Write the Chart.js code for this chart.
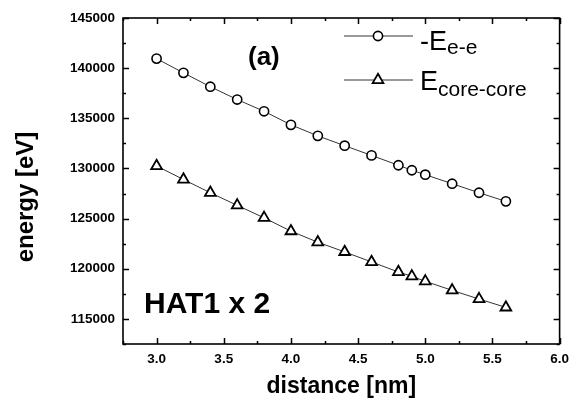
<!DOCTYPE html>
<html>
<head>
<meta charset="utf-8">
<script src="https://cdn.jsdelivr.net/npm/chart.js@4.4.1/dist/chart.umd.min.js"></script>
<style>
    html, body { margin: 0; padding: 0; background: #fff; }
    #wrap { width: 576px; height: 398px; position: relative; }
</style>
</head>
<body>
<div id="wrap"><canvas id="myChart"></canvas></div>
<script>
// values
const distances = [3.0, 3.2, 3.4, 3.6, 3.8, 4.0, 4.2, 4.4, 4.6, 4.8, 4.9, 5.0, 5.2, 5.4, 5.6];
const eeValues = [140950, 139530, 138150, 136870, 135700, 134350, 133250, 132270, 131300, 130320, 129820, 129380, 128480, 127580, 126720];
const coreValues = [130250, 128900, 127580, 126320, 125080, 123750, 122650, 121680, 120680, 119680, 119250, 118750, 117850, 116980, 116150];
const xTickValues = [3.0, 3.5, 4.0, 4.5, 5.0, 5.5, 6.0];
const yTickValues = [115000, 120000, 125000, 130000, 135000, 140000, 145000];

const FONT = "'Liberation Sans', Arial, sans-serif";

function labelFor(list, v, digits) {
    const hit = list.find(t => Math.abs(t - v) < 1e-6);
    return hit === undefined ? '' : hit.toFixed(digits);
}

// frame + inward ticks on all four sides
const frameTicks = {
    id: 'frameTicks',
    afterDraw(chart) {
        const { ctx, chartArea: a, scales: { x, y } } = chart;
        ctx.save();
        ctx.strokeStyle = '#000';
        ctx.lineWidth = 1.5;
        ctx.beginPath();
        x.ticks.forEach(t => {
            const px = Math.round(x.getPixelForValue(t.value)) + 0.5;
            const len = t.label ? 6 : 3;
            ctx.moveTo(px, a.bottom); ctx.lineTo(px, a.bottom - len);
            ctx.moveTo(px, a.top); ctx.lineTo(px, a.top + len);
        });
        y.ticks.forEach(t => {
            const py = Math.round(y.getPixelForValue(t.value)) + 0.5;
            const len = t.label ? 6 : 3;
            ctx.moveTo(a.left, py); ctx.lineTo(a.left + len, py);
            ctx.moveTo(a.right, py); ctx.lineTo(a.right - len, py);
        });
        ctx.stroke();
        ctx.lineWidth = 1.6;
        ctx.strokeRect(a.left, a.top, a.right - a.left, a.bottom - a.top);
        ctx.restore();
    }
};

// texts, axis titles and the legend with subscripts
const annotations = {
    id: 'annotations',
    afterDraw(chart) {
        const { ctx, chartArea: a } = chart;
        ctx.save();
        ctx.fillStyle = '#000';
        ctx.textBaseline = 'alphabetic';

        ctx.font = 'bold 23px ' + FONT;
        ctx.textAlign = 'center';
        ctx.fillText('distance [nm]', (a.left + a.right) / 2, 393);

        ctx.save();
        ctx.font = 'bold 24px ' + FONT;
        ctx.translate(33, 197);
        ctx.rotate(-Math.PI / 2);
        ctx.fillText('energy [eV]', 0, 0);
        ctx.restore();

        ctx.textAlign = 'left';
        ctx.font = 'bold 26px ' + FONT;
        ctx.fillText('(a)', 248, 65);
        ctx.font = 'bold 30px ' + FONT;
        ctx.fillText('HAT1 x 2', 144, 313);

        const rows = [
            { ds: 0, main: '-E', sub: 'e-e', y: 36, base: 50, subBase: 54 },
            { ds: 1, main: 'E', sub: 'core-core', y: 80, base: 90, subBase: 96 }
        ];
        rows.forEach(r => {
            const d = chart.data.datasets[r.ds];
            ctx.strokeStyle = '#000';
            ctx.lineWidth = 0.8;
            ctx.beginPath();
            ctx.moveTo(344, r.y); ctx.lineTo(413, r.y);
            ctx.stroke();
            ctx.fillStyle = '#fff';
            ctx.lineWidth = d.pointBorderWidth;
            Chart.helpers.drawPoint(ctx, {
                pointStyle: d.pointStyle, radius: d.pointRadius, rotation: 0, borderWidth: d.pointBorderWidth
            }, 378, r.y);
            ctx.fillStyle = '#000';
            ctx.font = '27px ' + FONT;
            ctx.fillText(r.main, 420, r.base);
            const w = ctx.measureText(r.main).width;
            ctx.font = '21px ' + FONT;
            ctx.fillText(r.sub, 420 + w, r.subBase);
        });
        ctx.restore();
    }
};

document.addEventListener('DOMContentLoaded', () => {
    const ctx = document.getElementById('myChart').getContext('2d');

    const data = {
        datasets: [{
            label: '-Ee-e',
            data: distances.map((d, i) => ({ x: d, y: eeValues[i] })),
            showLine: true,
            borderColor: '#000',
            borderWidth: 0.8,
            pointStyle: 'circle',
            pointRadius: 4.6,
            pointBorderWidth: 1.6,
            pointBackgroundColor: '#fff',
            pointBorderColor: '#000'
        }, {
            label: 'Ecore-core',
            data: distances.map((d, i) => ({ x: d, y: coreValues[i] })),
            showLine: true,
            borderColor: '#000',
            borderWidth: 0.8,
            pointStyle: 'triangle',
            pointRadius: 6.2,
            pointBorderWidth: 1.8,
            pointBackgroundColor: '#fff',
            pointBorderColor: '#000'
        }]
    };

    new Chart(ctx, {
        type: 'scatter',
        data: data,
        plugins: [frameTicks, annotations],
        options: {
            responsive: true,
            maintainAspectRatio: false,
            animation: false,
            layout: { padding: { top: 18, right: 11, bottom: 0, left: 0 } },
            plugins: { legend: { display: false }, tooltip: { enabled: false } },
            scales: {
                x: {
                    type: 'linear',
                    min: 2.75,
                    max: 6.0,
                    afterFit: s => { s.height = 54; },
                    grid: { display: false, drawTicks: false },
                    border: { display: false },
                    ticks: {
                        stepSize: 0.25,
                        autoSkip: false,
                        maxRotation: 0,
                        padding: 7,
                        color: '#000',
                        font: { family: FONT, size: 13.5, weight: 'bold' },
                        callback: v => labelFor(xTickValues, v, 1)
                    }
                },
                y: {
                    type: 'linear',
                    min: 112500,
                    max: 145000,
                    afterFit: s => { s.width = 123; },
                    grid: { display: false, drawTicks: false },
                    border: { display: false },
                    ticks: {
                        stepSize: 2500,
                        autoSkip: false,
                        padding: 8,
                        color: '#000',
                        font: { family: FONT, size: 13.5, weight: 'bold' },
                        callback: v => labelFor(yTickValues, v, 0)
                    }
                }
            }
        }
    });
});
</script>
</body>
</html>
